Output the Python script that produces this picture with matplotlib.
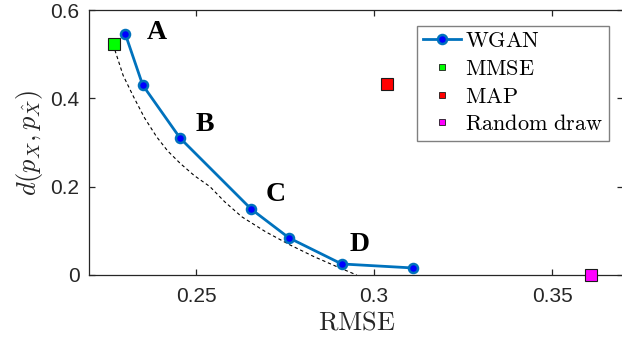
import matplotlib
matplotlib.use("Agg")
import matplotlib.pyplot as plt
from matplotlib.lines import Line2D

plt.rcParams['mathtext.fontset'] = 'cm'
plt.rcParams['font.family'] = ['Liberation Sans', 'DejaVu Sans']

# WGAN trade-off points
wgan_rmse = [0.2301, 0.2350, 0.2455, 0.2655, 0.2761, 0.2909, 0.3108]
wgan_d = [0.546, 0.430, 0.310, 0.149, 0.084, 0.025, 0.016]

# lower bound (dashed)
bound_rmse = [0.2270, 0.2272, 0.2295, 0.2324, 0.2355, 0.2389, 0.2420, 0.2455, 0.2495,
              0.2539, 0.2580, 0.2628, 0.2695, 0.2764, 0.2830, 0.2895, 0.2951]
bound_d = [0.523, 0.509, 0.452, 0.404, 0.356, 0.313, 0.281, 0.253, 0.225,
           0.200, 0.166, 0.132, 0.098, 0.068, 0.042, 0.019, 0.0]

mmse = (0.2270, 0.523)
map_pt = (0.3037, 0.432)
rand_pt = (0.3610, 0.0)

point_labels = ['A', 'B', 'C', 'D']
label_x = [0.2389, 0.2525, 0.2724, 0.2958]
label_y = [0.549, 0.340, 0.183, 0.070]

dark = (0.15, 0.15, 0.15)
mblue = (0, 0.447, 0.741)

fig = plt.figure(figsize=(6.22, 3.51), dpi=100)
ax = fig.add_axes([89.3/622, 76/351, 534/622, 265/351])

ax.plot(bound_rmse, bound_d, '--', color='k', lw=0.8, dashes=(3, 2.5))
ax.plot(wgan_rmse, wgan_d, '-o', color=mblue, lw=2, marker='o', ms=6.5,
        mfc=(0, 0, 1), mec=mblue, mew=1.8, zorder=3)
ax.plot(*mmse, 's', ms=9, mfc=(0, 1, 0), mec=(0.1, 0.1, 0.1), mew=0.8, zorder=4)
ax.plot(*map_pt, 's', ms=9, mfc=(1, 0, 0), mec=(0.1, 0.1, 0.1), mew=0.8, zorder=4)
ax.plot(*rand_pt, 's', ms=9, mfc=(1, 0, 1), mec=(0.1, 0.1, 0.1), mew=0.8, zorder=4,
        clip_on=False)

for t, x, y in zip(point_labels, label_x, label_y):
    ax.text(x, y, t, fontsize=20, fontweight='bold', family='Liberation Serif',
            ha='center', va='center')

ax.set_xlim(0.22, 0.37)
ax.set_ylim(0, 0.6)
ax.set_xticks([0.25, 0.3, 0.35])
ax.set_xticklabels(['0.25', '0.3', '0.35'])
ax.set_yticks([0, 0.2, 0.4, 0.6])
ax.set_yticklabels(['0', '0.2', '0.4', '0.6'])
ax.tick_params(direction='in', length=4, width=0.9, top=True, right=True,
               labelsize=15, colors=dark)
ax.tick_params(axis='x', pad=9)
ax.tick_params(axis='y', pad=7)
for s in ax.spines.values():
    s.set_color(dark)
    s.set_linewidth(0.9)

ax.set_xlabel(r'$\mathrm{RMSE}$', fontsize=19, color=dark, labelpad=3)
ax.set_ylabel(r'$d(p_X, p_{\hat{X}})$', fontsize=19, color=dark, labelpad=4)

handles = [
    Line2D([], [], color=mblue, lw=2, marker='o', ms=6.5, mfc=(0, 0, 1), mec=mblue, mew=1.8),
    Line2D([], [], ls='none', marker='s', ms=5, mfc=(0, 1, 0), mec=(0.1, 0.1, 0.1), mew=0.6),
    Line2D([], [], ls='none', marker='s', ms=5, mfc=(1, 0, 0), mec=(0.1, 0.1, 0.1), mew=0.6),
    Line2D([], [], ls='none', marker='s', ms=5, mfc=(1, 0, 1), mec=(0.1, 0.1, 0.1), mew=0.6),
]
names = [r'$\mathrm{WGAN}$', r'$\mathrm{MMSE}$', r'$\mathrm{MAP}$', r'$\mathrm{Random\ draw}$']
leg = fig.legend(handles, names, loc='upper left', bbox_to_anchor=(417.3/622, 1 - 25.7/351),
                 fontsize=16, fancybox=False, framealpha=1, edgecolor=(0.5, 0.5, 0.5),
                 borderaxespad=0, handlelength=1.7, handletextpad=0.2, labelspacing=0.3,
                 borderpad=0.25)
leg.get_frame().set_linewidth(1)

fig.savefig('out.png', dpi=100)
